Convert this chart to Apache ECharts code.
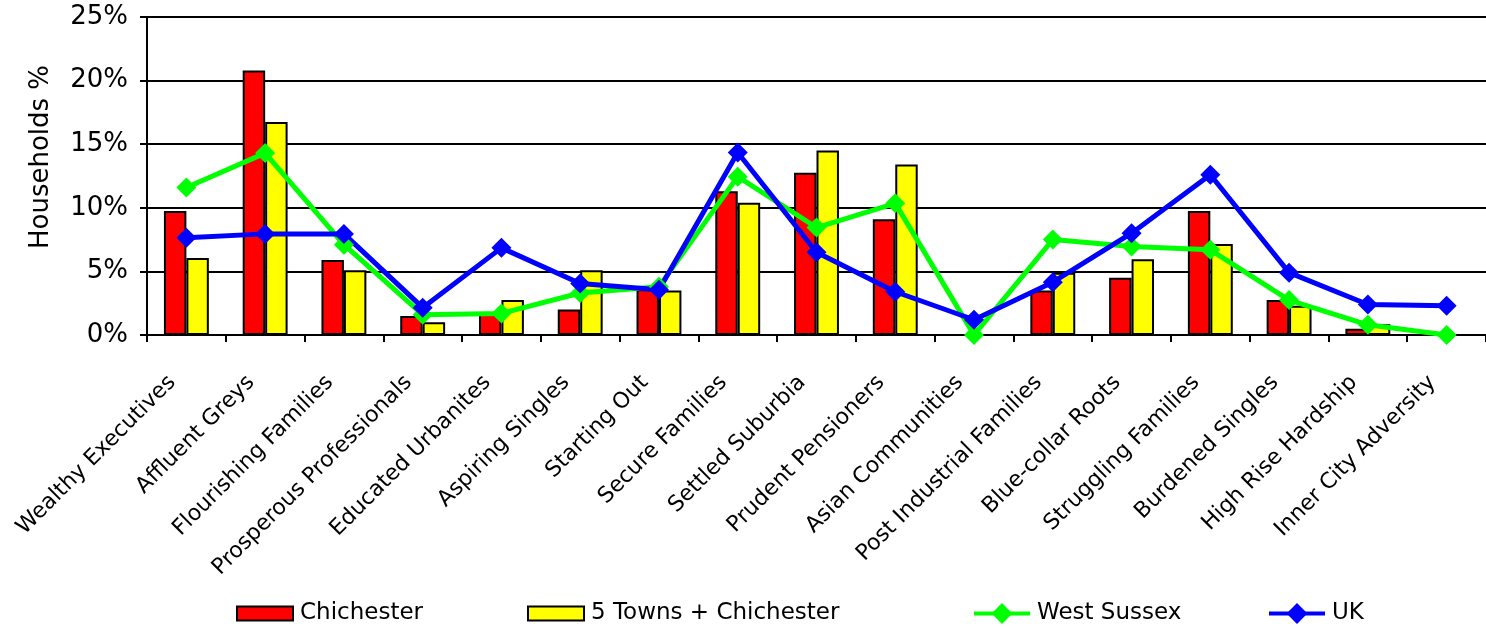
<!DOCTYPE html>
<html>
<head>
<meta charset="utf-8">
<script src="https://cdn.jsdelivr.net/npm/echarts@6/dist/echarts.min.js"></script>
<style>
  html, body {
    margin: 0;
    padding: 0;
    background: #fff;
  }
  #ww {
    width: 1486px;
    height: 627px;
  }
</style>
</head>
<body>
<div id="ww"></div>
<script>
// x轴类别
var categories = [
  "Wealthy Executives", "Affluent Greys", "Flourishing Families", "Prosperous Professionals",
  "Educated Urbanites", "Aspiring Singles", "Starting Out", "Secure Families",
  "Settled Suburbia", "Prudent Pensioners", "Asian Communities", "Post Industrial Families",
  "Blue-collar Roots", "Struggling Families", "Burdened Singles", "High Rise Hardship",
  "Inner City Adversity"
];

// 各系列数据 (%)
var chichester = [9.75, 20.8, 5.9, 1.5, 1.7, 2.0, 3.6, 11.3, 12.75, 9.1, 0, 3.5, 4.5, 9.75, 2.75, 0.5, 0];
var fiveTowns = [6.05, 16.75, 5.1, 1.0, 2.75, 5.1, 3.5, 10.4, 14.5, 13.4, 0, 4.9, 5.95, 7.15, 2.3, 0.85, 0];
var westSussex = [11.6, 14.3, 7.1, 1.6, 1.7, 3.3, 3.8, 12.45, 8.45, 10.35, 0, 7.5, 6.95, 6.7, 2.75, 0.8, 0];
var uk = [7.65, 7.95, 7.95, 2.15, 6.85, 4.05, 3.55, 14.35, 6.5, 3.4, 1.2, 4.15, 8.0, 12.6, 4.9, 2.4, 2.3];

var yTicks = [0, 5, 10, 15, 20, 25];

var fontName = "DejaVu Sans";

// 图例一个一个摆,位置跟原图对齐
function legendAt(name, left, isLine) {
  var lg = {
    data: [{ name: name, icon: isLine ? undefined : "rect" }],
    left: left,
    top: 602,
    padding: 0,
    itemGap: 0,
    itemWidth: 56,
    itemHeight: isLine ? 26 : 14,
    textStyle: { fontFamily: fontName, fontSize: 23, color: "#000", padding: [0, 0, 0, 2] }
  };
  if (isLine) {
    lg.lineStyle = { width: 4 };
  } else {
    lg.itemStyle = { borderWidth: 2, borderColor: "#000" };
  }
  return lg;
}

var chartDom = document.getElementById("ww");
var myChart = echarts.init(chartDom);
var option = {
  animation: false,
  backgroundColor: "#fff",
  legend: [
    legendAt("Chichester", 236, false),
    legendAt("5 Towns + Chichester", 527, false),
    legendAt("West Sussex", 972, true),
    legendAt("UK", 1267, true)
  ],
  grid: {
    left: 147,
    right: 0,
    top: 17,
    bottom: 292,
    containLabel: false
  },
  xAxis: {
    type: "category",
    data: categories,
    boundaryGap: true,
    axisLine: { lineStyle: { color: "#000", width: 2 } },
    axisTick: { show: true, length: 7, lineStyle: { color: "#000", width: 2 } },
    axisLabel: {
      rotate: 45,
      margin: 30,
      interval: 0,
      padding: [0, 20, 0, 0],
      fontFamily: fontName,
      fontSize: 22,
      color: "#000"
    }
  },
  yAxis: {
    type: "value",
    min: yTicks[0],
    max: yTicks[yTicks.length - 1],
    interval: 5,
    name: "Households %",
    nameLocation: "middle",
    nameGap: 93,
    nameTextStyle: { fontFamily: fontName, fontSize: 26, color: "#000", padding: [0, 0, 0, 38] },
    axisLine: { show: true, lineStyle: { color: "#000", width: 2 } },
    axisTick: { show: true, length: 7, lineStyle: { color: "#000", width: 2 } },
    splitLine: { lineStyle: { color: "#000", width: 2 } },
    axisLabel: {
      margin: 19,
      fontFamily: fontName,
      fontSize: 26,
      color: "#000",
      formatter: "{value}%"
    }
  },
  series: [
    {
      name: "Chichester",
      type: "bar",
      data: chichester,
      barGap: "0%",
      barCategoryGap: "43%",
      itemStyle: { color: "#ff0000", borderColor: "#000", borderWidth: 2 }
    },
    {
      name: "5 Towns + Chichester",
      type: "bar",
      data: fiveTowns,
      itemStyle: { color: "#ffff00", borderColor: "#000", borderWidth: 2 }
    },
    {
      name: "West Sussex",
      type: "line",
      data: westSussex,
      symbol: "diamond",
      symbolSize: 20,
      lineStyle: { color: "#00ff00", width: 5 },
      itemStyle: { color: "#00ff00" }
    },
    {
      name: "UK",
      type: "line",
      data: uk,
      symbol: "diamond",
      symbolSize: 20,
      lineStyle: { color: "#0000ff", width: 5 },
      itemStyle: { color: "#0000ff" }
    }
  ]
};

option && myChart.setOption(option);
</script>
</body>
</html>
